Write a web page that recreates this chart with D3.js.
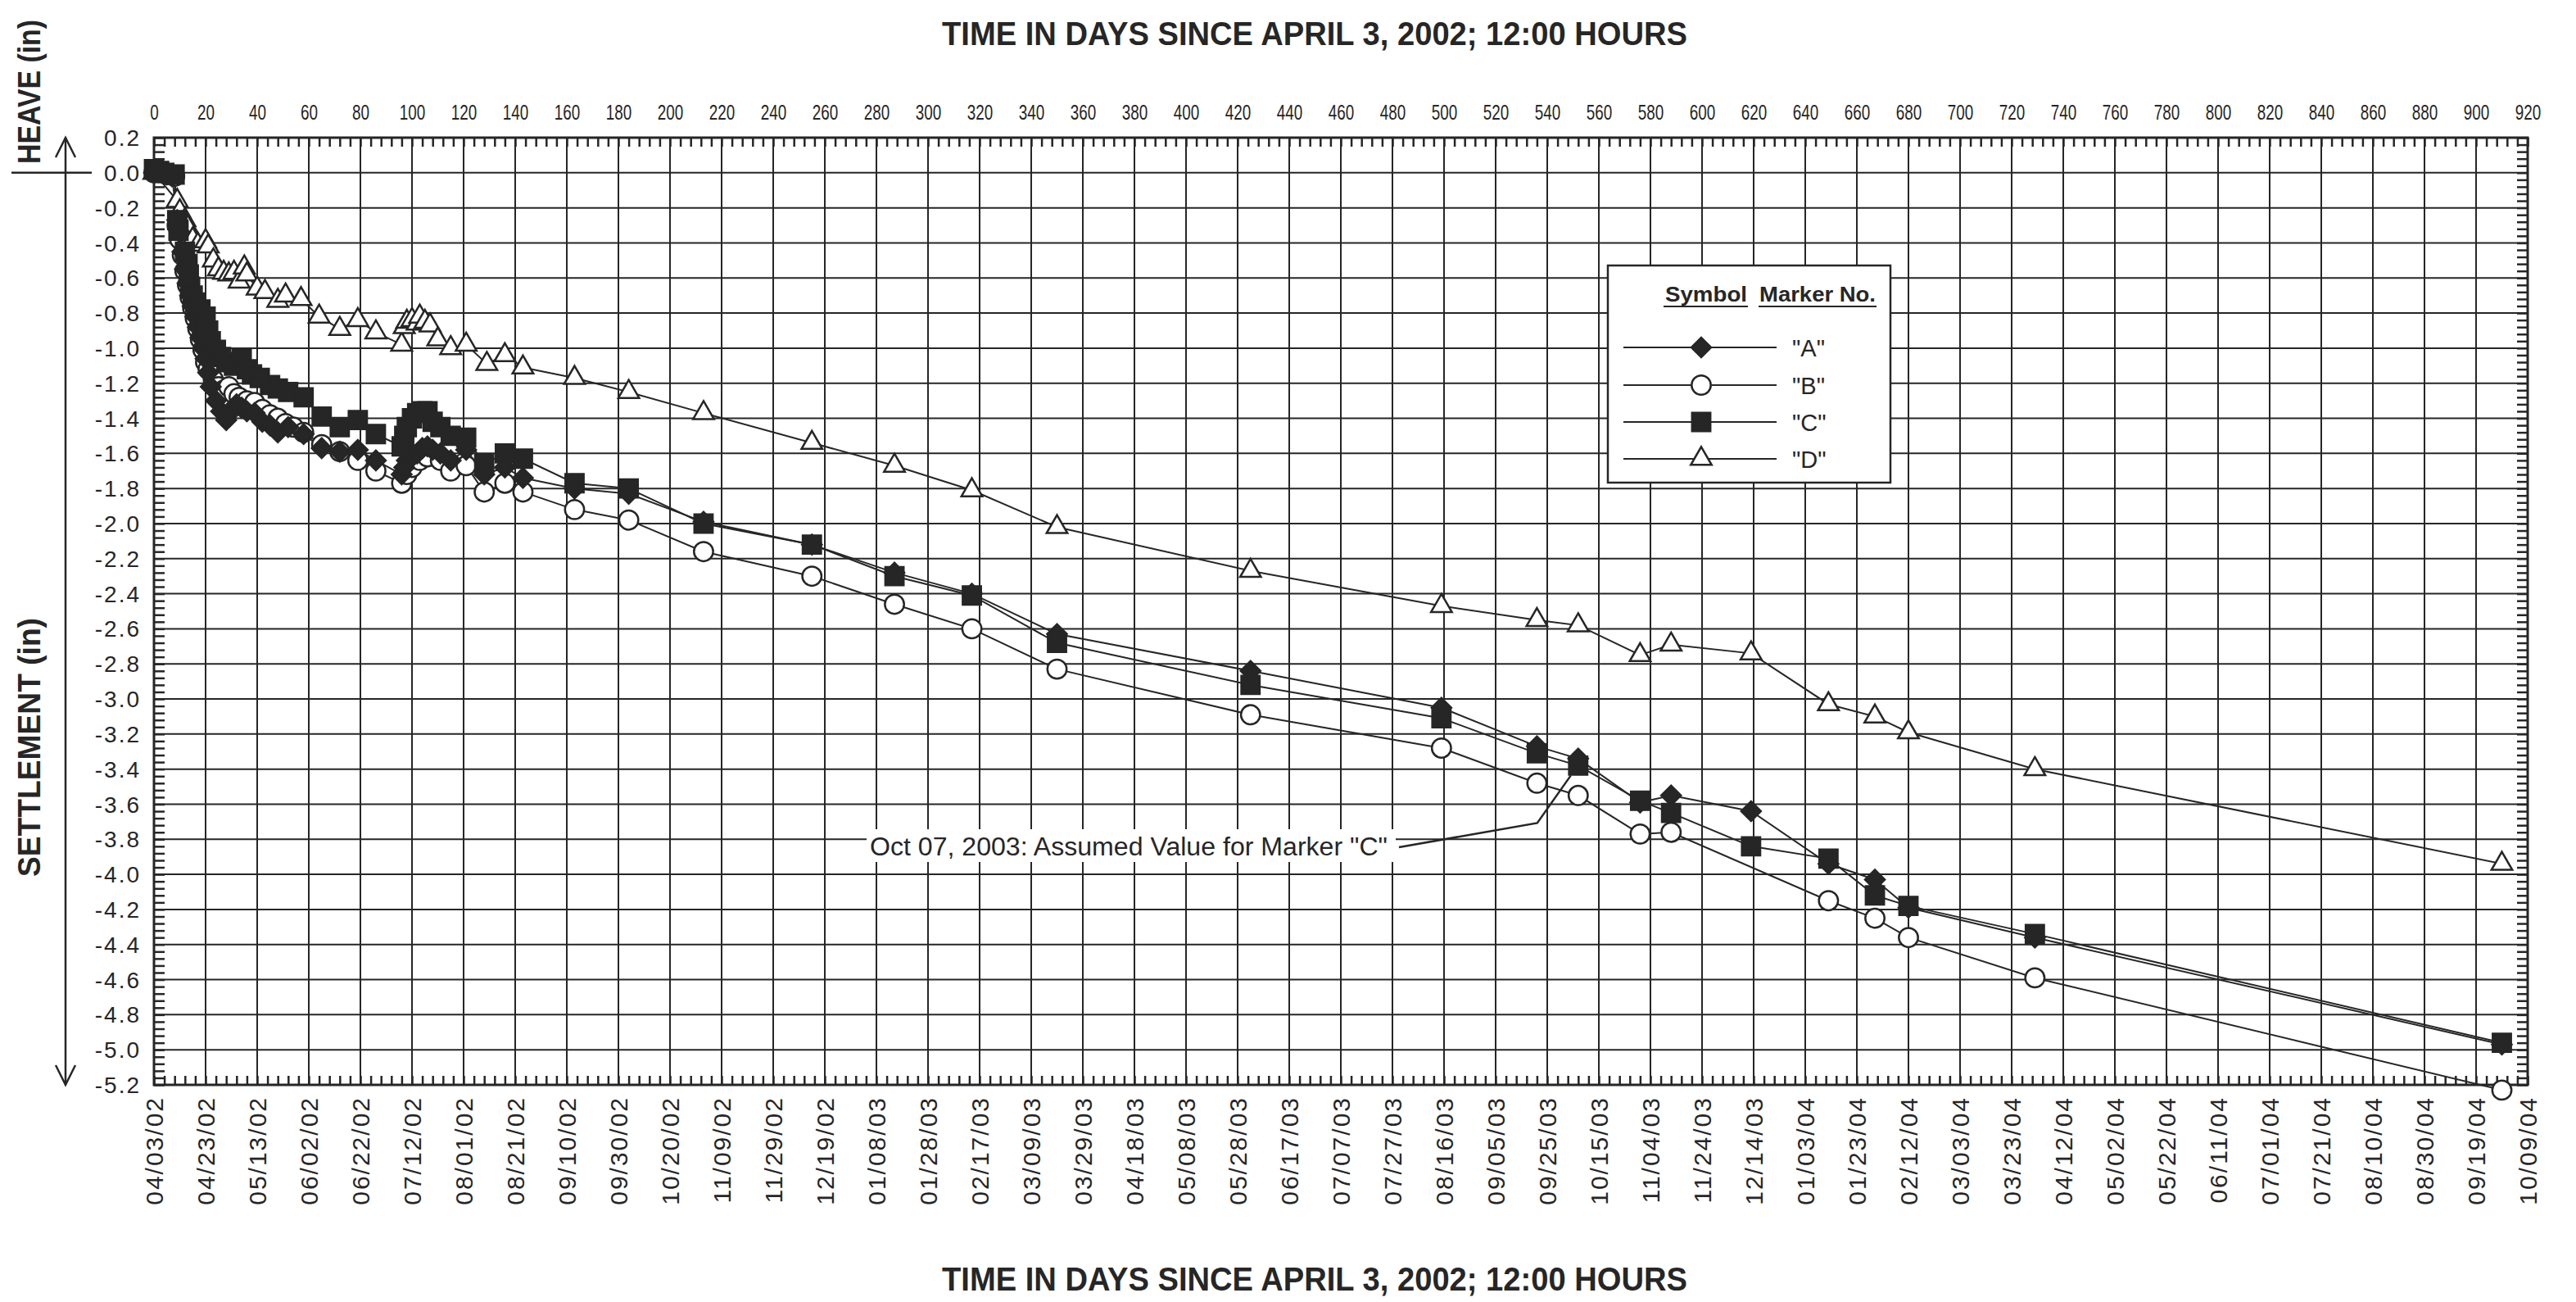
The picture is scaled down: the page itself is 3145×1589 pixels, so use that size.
<!DOCTYPE html>
<html>
<head>
<meta charset="utf-8">
<script src="https://cdn.jsdelivr.net/npm/d3@7"></script>
<style>
  body { margin: 0; background: #fff; }
  svg { display: block; }
</style>
</head>
<body>
<svg id="chart" width="3145" height="1589"></svg>
<script>
// Settlement readings, [day since 04/03/02 12:00, inches]
const markerA = [[0,0.0],[1,0.01],[3,0.0],[5,-0.01],[7,-0.02],[9,-0.27],[10,-0.34],[11,-0.45],[12,-0.55],[13,-0.63],[14,-0.7],[15,-0.76],[16,-0.82],[17,-0.88],[18,-0.94],[19,-1.0],[20,-1.06],[21,-1.14],[22,-1.22],[24,-1.3],[26,-1.36],[28,-1.41],[30,-1.36],[32,-1.32],[34,-1.34],[36,-1.36],[39,-1.37],[42,-1.42],[45,-1.44],[48,-1.48],[52,-1.45],[58,-1.49],[65,-1.57],[72,-1.59],[79,-1.58],[86,-1.64],[96,-1.72],[97,-1.68],[98,-1.64],[100,-1.62],[102,-1.6],[104,-1.57],[106,-1.56],[108,-1.58],[111,-1.6],[115,-1.64],[121,-1.58],[128,-1.72],[136,-1.68],[143,-1.74],[163,-1.8],[184,-1.83],[213,-1.99],[255,-2.12],[287,-2.28],[317,-2.4],[350,-2.63],[425,-2.84],[499,-3.05],[536,-3.27],[552,-3.34],[576,-3.59],[588,-3.55],[619,-3.64],[649,-3.94],[667,-4.03],[680,-4.19],[729,-4.36],[910,-4.97]];
const markerB = [[0,0.0],[2,0.0],[5,-0.01],[8,-0.02],[9,-0.3],[10,-0.38],[11,-0.47],[12,-0.56],[13,-0.64],[14,-0.71],[15,-0.77],[16,-0.83],[17,-0.89],[18,-0.95],[19,-1.01],[20,-1.08],[21,-1.12],[23,-1.18],[25,-1.22],[27,-1.24],[29,-1.22],[31,-1.26],[33,-1.28],[36,-1.3],[39,-1.31],[42,-1.35],[45,-1.38],[48,-1.4],[51,-1.43],[54,-1.45],[58,-1.48],[65,-1.55],[72,-1.59],[79,-1.64],[86,-1.7],[96,-1.77],[98,-1.72],[100,-1.68],[103,-1.64],[106,-1.62],[111,-1.64],[115,-1.7],[121,-1.67],[128,-1.82],[136,-1.77],[143,-1.82],[163,-1.92],[184,-1.98],[213,-2.16],[255,-2.3],[287,-2.46],[317,-2.6],[350,-2.83],[425,-3.09],[499,-3.28],[536,-3.48],[552,-3.55],[576,-3.77],[588,-3.76],[649,-4.15],[667,-4.25],[680,-4.36],[729,-4.59],[910,-5.23]];
const markerC = [[0,0.02],[2,0.01],[4,0.0],[8,-0.01],[9,-0.27],[9.5,-0.33],[12,-0.45],[13,-0.52],[13.5,-0.58],[14,-0.65],[15,-0.7],[16,-0.74],[18,-0.78],[20,-0.82],[21,-0.9],[22,-0.96],[24,-1.01],[26,-1.05],[28,-1.08],[31,-1.1],[34,-1.06],[36,-1.12],[38,-1.15],[41,-1.17],[45,-1.21],[48,-1.23],[52,-1.25],[58,-1.28],[65,-1.39],[72,-1.45],[79,-1.41],[86,-1.49],[96,-1.56],[97,-1.5],[98,-1.45],[100,-1.4],[102,-1.37],[104,-1.36],[106,-1.36],[108,-1.42],[111,-1.45],[115,-1.5],[121,-1.51],[128,-1.66],[136,-1.6],[143,-1.63],[163,-1.77],[184,-1.8],[213,-2.0],[255,-2.12],[287,-2.3],[317,-2.41],[350,-2.68],[425,-2.92],[499,-3.11],[536,-3.31],[552,-3.38],[576,-3.58],[588,-3.65],[619,-3.84],[649,-3.91],[667,-4.12],[680,-4.18],[729,-4.34],[910,-4.96]];
const markerD = [[0,0.0],[9,-0.16],[10,-0.22],[12,-0.27],[13,-0.31],[15,-0.38],[17,-0.41],[20,-0.39],[21,-0.42],[23,-0.5],[25,-0.55],[27,-0.57],[29,-0.58],[31,-0.57],[33,-0.62],[35,-0.54],[36,-0.58],[40,-0.66],[43,-0.68],[48,-0.73],[51,-0.7],[57,-0.72],[64,-0.82],[72,-0.89],[79,-0.84],[86,-0.91],[96,-0.98],[97,-0.88],[98,-0.85],[100,-0.84],[102,-0.86],[103,-0.82],[105,-0.85],[107,-0.87],[110,-0.95],[115,-1.0],[121,-0.98],[129,-1.09],[136,-1.04],[143,-1.11],[163,-1.17],[184,-1.25],[213,-1.37],[255,-1.54],[287,-1.67],[317,-1.81],[350,-2.02],[425,-2.27],[499,-2.47],[536,-2.55],[552,-2.58],[576,-2.75],[588,-2.69],[619,-2.74],[649,-3.03],[667,-3.1],[680,-3.19],[729,-3.4],[910,-3.94]];

const markerNames = ['"A"', '"B"', '"C"', '"D"'];

// tick labels
const dayTicks = d3.range(0, 921, 20);
const dateLabels = ["04/03/02","04/23/02","05/13/02","06/02/02","06/22/02","07/12/02","08/01/02","08/21/02","09/10/02","09/30/02","10/20/02","11/09/02","11/29/02","12/19/02","01/08/03","01/28/03","02/17/03","03/09/03","03/29/03","04/18/03","05/08/03","05/28/03","06/17/03","07/07/03","07/27/03","08/16/03","09/05/03","09/25/03","10/15/03","11/04/03","11/24/03","12/14/03","01/03/04","01/23/04","02/12/04","03/03/04","03/23/04","04/12/04","05/02/04","05/22/04","06/11/04","07/01/04","07/21/04","08/10/04","08/30/04","09/19/04","10/09/04"];
const yTicks = [0.2,0.0,-0.2,-0.4,-0.6,-0.8,-1.0,-1.2,-1.4,-1.6,-1.8,-2.0,-2.2,-2.4,-2.6,-2.8,-3.0,-3.2,-3.4,-3.6,-3.8,-4.0,-4.2,-4.4,-4.6,-4.8,-5.0,-5.2];

const annotationDay = 552;
const annotationText = 'Oct 07, 2003:  Assumed Value for Marker "C"';
const titleText = "TIME IN DAYS SINCE APRIL 3, 2002; 12:00 HOURS";

const ink = "#262626";
const helv = "'Liberation Sans', Arial, Helvetica, sans-serif";

const svg = d3.select("#chart");
svg.append("rect").attr("width", 3145).attr("height", 1589).attr("fill", "#fff");

const plotLeft = 188, plotRight = 3086, plotTop = 168, plotBottom = 1324;
const x = d3.scaleLinear().domain([0, 920]).range([plotLeft, plotRight]);
const y = d3.scaleLinear().domain([0.2, -5.2]).range([plotTop, plotBottom]);

// grid
const grid = svg.append("g").attr("stroke", ink).attr("stroke-width", 2);
grid.selectAll("line.v").data(dayTicks).enter().append("line")
    .attr("x1", d => x(d)).attr("x2", d => x(d))
    .attr("y1", plotTop).attr("y2", plotBottom);
grid.selectAll("line.h").data(yTicks).enter().append("line")
    .attr("x1", plotLeft).attr("x2", plotRight)
    .attr("y1", d => y(d)).attr("y2", d => y(d));

// minor ticks, pointing inward
const minorDays = d3.range(0, 921, 4);
const minorVals = d3.range(0, 136).map(i => 0.2 - i * 0.04);
svg.append("g").attr("transform", `translate(0,${plotTop})`)
    .call(d3.axisTop(x).tickValues(minorDays).tickSize(-11).tickFormat(""))
    .call(g => g.select(".domain").remove());
svg.append("g").attr("transform", `translate(0,${plotBottom})`)
    .call(d3.axisBottom(x).tickValues(minorDays).tickSize(-11).tickFormat(""))
    .call(g => g.select(".domain").remove());
svg.append("g").attr("transform", `translate(${plotLeft},0)`)
    .call(d3.axisLeft(y).tickValues(minorVals).tickSize(-13).tickFormat(""))
    .call(g => g.select(".domain").remove());
svg.append("g").attr("transform", `translate(${plotRight},0)`)
    .call(d3.axisRight(y).tickValues(minorVals).tickSize(-13).tickFormat(""))
    .call(g => g.select(".domain").remove());
svg.selectAll(".tick line").attr("stroke", ink).attr("stroke-width", 2.5);

// frame
svg.append("rect").attr("x", plotLeft).attr("y", plotTop)
    .attr("width", plotRight - plotLeft).attr("height", plotBottom - plotTop)
    .attr("fill", "none").attr("stroke", ink).attr("stroke-width", 3);

// top day labels (condensed look)
svg.append("g").attr("transform", `translate(0,${plotTop - 22})`)
    .call(d3.axisTop(x).tickValues(dayTicks).tickSize(0).tickPadding(0))
    .call(g => g.select(".domain").remove())
    .selectAll("text")
    .attr("font-family", helv).attr("font-size", 26).attr("fill", ink)
    .attr("textLength", d => String(d).length * 10.5)
    .attr("lengthAdjust", "spacingAndGlyphs");

// bottom date labels
svg.append("g").selectAll("text").data(dayTicks).enter().append("text")
    .attr("transform", d => `translate(${x(d)},${plotBottom + 14}) rotate(-90)`)
    .attr("text-anchor", "end").attr("dy", "0.36em")
    .attr("font-family", helv).attr("font-size", 30).attr("letter-spacing", 2)
    .attr("fill", ink)
    .text((d, i) => dateLabels[i]);

// y labels
svg.append("g").selectAll("text").data(yTicks).enter().append("text")
    .attr("x", plotLeft - 16).attr("y", d => y(d)).attr("dy", "0.36em")
    .attr("text-anchor", "end")
    .attr("font-family", helv).attr("font-size", 28).attr("letter-spacing", 2)
    .attr("fill", ink)
    .text(d => d.toFixed(1));

// titles
[[1605, 55], [1605, 1575]].forEach(p => {
    svg.append("text").attr("x", p[0]).attr("y", p[1])
        .attr("text-anchor", "middle")
        .attr("font-family", helv).attr("font-weight", "bold").attr("font-size", 40)
        .attr("textLength", 910).attr("lengthAdjust", "spacingAndGlyphs")
        .attr("fill", ink).text(titleText);
});
svg.append("text").attr("transform", "translate(49,112) rotate(-90)")
    .attr("text-anchor", "middle")
    .attr("font-family", helv).attr("font-weight", "bold").attr("font-size", 38)
    .attr("textLength", 176).attr("lengthAdjust", "spacingAndGlyphs")
    .attr("fill", ink).text("HEAVE (in)");
svg.append("text").attr("transform", "translate(49,912) rotate(-90)")
    .attr("text-anchor", "middle")
    .attr("font-family", helv).attr("font-weight", "bold").attr("font-size", 38)
    .attr("textLength", 316).attr("lengthAdjust", "spacingAndGlyphs")
    .attr("fill", ink).text("SETTLEMENT (in)");

// heave / settlement arrow
const arr = svg.append("g").attr("stroke", ink).attr("stroke-width", 2.5).attr("fill", "none");
arr.append("line").attr("x1", 14).attr("x2", 112).attr("y1", y(0)).attr("y2", y(0));
arr.append("line").attr("x1", 80).attr("x2", 80).attr("y1", y(0.2)).attr("y2", y(-5.2));
arr.append("path").attr("d", `M68,${y(0.2) + 24}L80,${y(0.2)}L92,${y(0.2) + 24}`);
arr.append("path").attr("d", `M68,${y(-5.2) - 24}L80,${y(-5.2)}L92,${y(-5.2) - 24}`);

// series
const series = [
    { data: markerA, type: "diamond", fill: ink },
    { data: markerB, type: "circle", fill: "#fff" },
    { data: markerC, type: "square", fill: ink },
    { data: markerD, type: "triangle", fill: "#fff" }
];

function symbolPath(type) {
    if (type === "diamond") return d3.symbol(d3.symbolSquare, 290)();
    if (type === "circle") return d3.symbol(d3.symbolCircle, 430)();
    if (type === "square") return d3.symbol(d3.symbolSquare, 500)();
    return d3.symbol(d3.symbolTriangle, 280)();
}
function symbolRotate(type) {
    return type === "diamond" ? " rotate(45)" : "";
}

const line = d3.line().x(d => x(d[0])).y(d => y(d[1]));
svg.append("g").selectAll("path").data(series).enter().append("path")
    .attr("d", s => line(s.data))
    .attr("fill", "none").attr("stroke", ink).attr("stroke-width", 2);

// draw order: circles, triangles, diamonds, squares
[1, 3, 0, 2].forEach(i => {
    const s = series[i];
    svg.append("g").selectAll("path").data(s.data).enter().append("path")
        .attr("d", symbolPath(s.type))
        .attr("transform", d => `translate(${x(d[0])},${y(d[1])})` + symbolRotate(s.type))
        .attr("fill", s.fill).attr("stroke", ink).attr("stroke-width", 2.5);
});

// annotation for assumed value of marker C
const cPt = markerC.find(d => d[0] === annotationDay);
const cx = x(cPt[0]), cy = y(cPt[1]);
const ann = svg.append("g");
ann.append("rect").attr("x", 1058).attr("y", 1012).attr("width", 646).attr("height", 40).attr("fill", "#fff");
ann.append("text").attr("x", 1062).attr("y", 1044)
    .attr("font-family", helv).attr("font-size", 31)
    .attr("textLength", 632).attr("lengthAdjust", "spacingAndGlyphs")
    .attr("fill", ink).text(annotationText);
ann.append("path")
    .attr("d", `M1708,1034L${cx - 50},${cy + 70}L${cx - 9},${cy + 12}`)
    .attr("fill", "none").attr("stroke", ink).attr("stroke-width", 2.5);

// legend
const lg = svg.append("g");
lg.append("rect").attr("x", 1963).attr("y", 324).attr("width", 345).attr("height", 265)
    .attr("fill", "#fff").attr("stroke", ink).attr("stroke-width", 2.5);
lg.append("text").attr("x", 2033).attr("y", 368)
    .attr("font-family", helv).attr("font-weight", "bold").attr("font-size", 25)
    .attr("textLength", 100).attr("lengthAdjust", "spacingAndGlyphs")
    .attr("fill", ink).text("Symbol");
lg.append("text").attr("x", 2148).attr("y", 368)
    .attr("font-family", helv).attr("font-weight", "bold").attr("font-size", 25)
    .attr("textLength", 142).attr("lengthAdjust", "spacingAndGlyphs")
    .attr("fill", ink).text("Marker No.");
lg.append("line").attr("x1", 2031).attr("x2", 2134).attr("y1", 374).attr("y2", 374)
    .attr("stroke", ink).attr("stroke-width", 2);
lg.append("line").attr("x1", 2147).attr("x2", 2291).attr("y1", 374).attr("y2", 374)
    .attr("stroke", ink).attr("stroke-width", 2);

const rowY = [424, 470, 515, 560];
series.forEach((s, i) => {
    lg.append("line").attr("x1", 1982).attr("x2", 2169).attr("y1", rowY[i]).attr("y2", rowY[i])
        .attr("stroke", ink).attr("stroke-width", 2);
    lg.append("path").attr("d", symbolPath(s.type))
        .attr("transform", `translate(2077,${rowY[i]})` + symbolRotate(s.type))
        .attr("fill", s.fill).attr("stroke", ink).attr("stroke-width", 2.5);
    lg.append("text").attr("x", 2188).attr("y", rowY[i] + 11)
        .attr("font-family", helv).attr("font-size", 29)
        .attr("fill", ink).text(markerNames[i]);
});
</script>
</body>
</html>
